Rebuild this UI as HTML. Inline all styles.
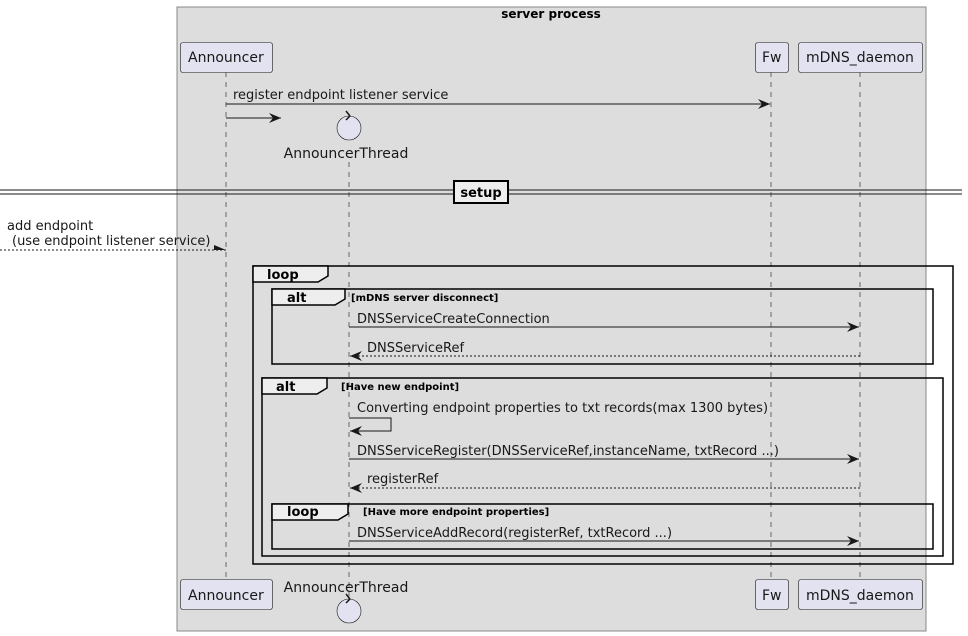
<!DOCTYPE html>
<html><head><style>html,body{margin:0;padding:0;background:#fff}svg{display:block}</style></head><body>
<svg width="968" height="636" viewBox="0 0 968 636" xmlns="http://www.w3.org/2000/svg" font-family="DejaVu Sans, sans-serif">
<defs>
<marker id="a" markerWidth="14" markerHeight="12" refX="12" refY="6" orient="auto" markerUnits="userSpaceOnUse"><path d="M0,1 L12,6 L0,11 L4,6 Z" fill="#181818"/></marker>
<marker id="o" markerWidth="14" markerHeight="12" refX="12" refY="6" orient="auto" markerUnits="userSpaceOnUse"><path d="M0,1 L12,6 L0,6 Z" fill="#181818"/></marker>
</defs>
<rect x="177" y="7" width="749" height="624" fill="#dddddd" stroke="#888" stroke-width="1"/>
<text x="551" y="18" font-size="12" font-weight="bold" text-anchor="middle">server process</text>
<g stroke="#181818" stroke-width="0.6" stroke-dasharray="5,5">
<line x1="226" y1="72" x2="226" y2="580"/>
<line x1="349" y1="162" x2="349" y2="596"/>
<line x1="771" y1="72" x2="771" y2="580"/>
<line x1="860" y1="72" x2="860" y2="580"/>
</g>
<g fill="#e2e2f0" stroke="#181818" stroke-width="0.6">
<rect x="180.5" y="42.5" width="92" height="30" rx="2.5"/>
<rect x="755.5" y="42.5" width="33" height="30" rx="2.5"/>
<rect x="798.5" y="42.5" width="124" height="30" rx="2.5"/>
<rect x="180.5" y="579.5" width="92" height="30" rx="2.5"/>
<rect x="755.5" y="579.5" width="33" height="30" rx="2.5"/>
<rect x="798.5" y="579.5" width="124" height="30" rx="2.5"/>
<circle cx="349" cy="128" r="12"/>
<circle cx="349" cy="611" r="12"/>
</g>
<path d="M350,116 l-4,-5 M350,116 l-4,4" stroke="#181818" stroke-width="1.5" fill="none"/>
<path d="M350,599 l-4,-5 M350,599 l-4,4" stroke="#181818" stroke-width="1.5" fill="none"/>
<g font-size="14" fill="#181818">
<text x="188" y="62">Announcer</text>
<text x="762" y="62">Fw</text>
<text x="806" y="62">mDNS_daemon</text>
<text x="188" y="600">Announcer</text>
<text x="762" y="600">Fw</text>
<text x="806" y="600">mDNS_daemon</text>
<text x="346" y="158" text-anchor="middle">AnnouncerThread</text>
<text x="346" y="592" text-anchor="middle">AnnouncerThread</text>
</g>
<g stroke="#181818" stroke-width="1" fill="none">
<line x1="226" y1="104" x2="770" y2="104" marker-end="url(#a)"/>
<line x1="226" y1="118" x2="281" y2="118" marker-end="url(#a)"/>
<line x1="0" y1="190" x2="962" y2="190"/>
<line x1="0" y1="194" x2="962" y2="194"/>
<line x1="0" y1="250" x2="226" y2="250" stroke-dasharray="2,2" marker-end="url(#o)"/>
</g>
<rect x="454" y="181" width="54" height="22" fill="#eee" stroke="#000" stroke-width="2"/>
<text x="481" y="197" font-size="13" font-weight="bold" text-anchor="middle">setup</text>
<g font-size="13" fill="#181818">
<text x="233" y="99">register endpoint listener service</text>
<text x="7" y="230">add endpoint</text>
<text x="12" y="245">(use endpoint listener service)</text>
</g>
<g stroke="#000" stroke-width="1.5" fill="none">
<rect x="253" y="266" width="700" height="298"/>
<rect x="272" y="289" width="661" height="75"/>
<rect x="262" y="378" width="681" height="178"/>
<rect x="272" y="504" width="661" height="45"/>
</g>
<g fill="#eee" stroke="#000" stroke-width="1.5">
<path d="M253,266 H328 V276 L318,282 H253 Z"/>
<path d="M272,289 H345 V299 L335,305 H272 Z"/>
<path d="M262,378 H327 V388 L317,394 H262 Z"/>
<path d="M272,504 H348 V514 L338,520 H272 Z"/>
</g>
<g font-size="13" font-weight="bold" fill="#000">
<text x="267" y="279">loop</text>
<text x="287" y="302">alt</text>
<text x="276" y="391">alt</text>
<text x="287" y="516">loop</text>
</g>
<g font-size="10" font-weight="bold" fill="#000">
<text x="351" y="301">[mDNS server disconnect]</text>
<text x="341" y="390">[Have new endpoint]</text>
<text x="363" y="515">[Have more endpoint properties]</text>
</g>
<g stroke="#181818" stroke-width="1" fill="none">
<line x1="349" y1="327" x2="859" y2="327" marker-end="url(#a)"/>
<line x1="860" y1="356" x2="350" y2="356" stroke-dasharray="2,2" marker-end="url(#a)"/>
<polyline points="349,418 391,418 391,431 350,431" marker-end="url(#a)"/>
<line x1="349" y1="459" x2="859" y2="459" marker-end="url(#a)"/>
<line x1="860" y1="488" x2="350" y2="488" stroke-dasharray="2,2" marker-end="url(#a)"/>
<line x1="349" y1="541" x2="859" y2="541" marker-end="url(#a)"/>
</g>
<g font-size="13" fill="#181818">
<text x="357" y="323">DNSServiceCreateConnection</text>
<text x="367" y="352">DNSServiceRef</text>
<text x="357" y="412">Converting endpoint properties to txt records(max 1300 bytes)</text>
<text x="357" y="455">DNSServiceRegister(DNSServiceRef,instanceName, txtRecord ...)</text>
<text x="367" y="483">registerRef</text>
<text x="357" y="537">DNSServiceAddRecord(registerRef, txtRecord ...)</text>
</g>
</svg>
</body></html>
